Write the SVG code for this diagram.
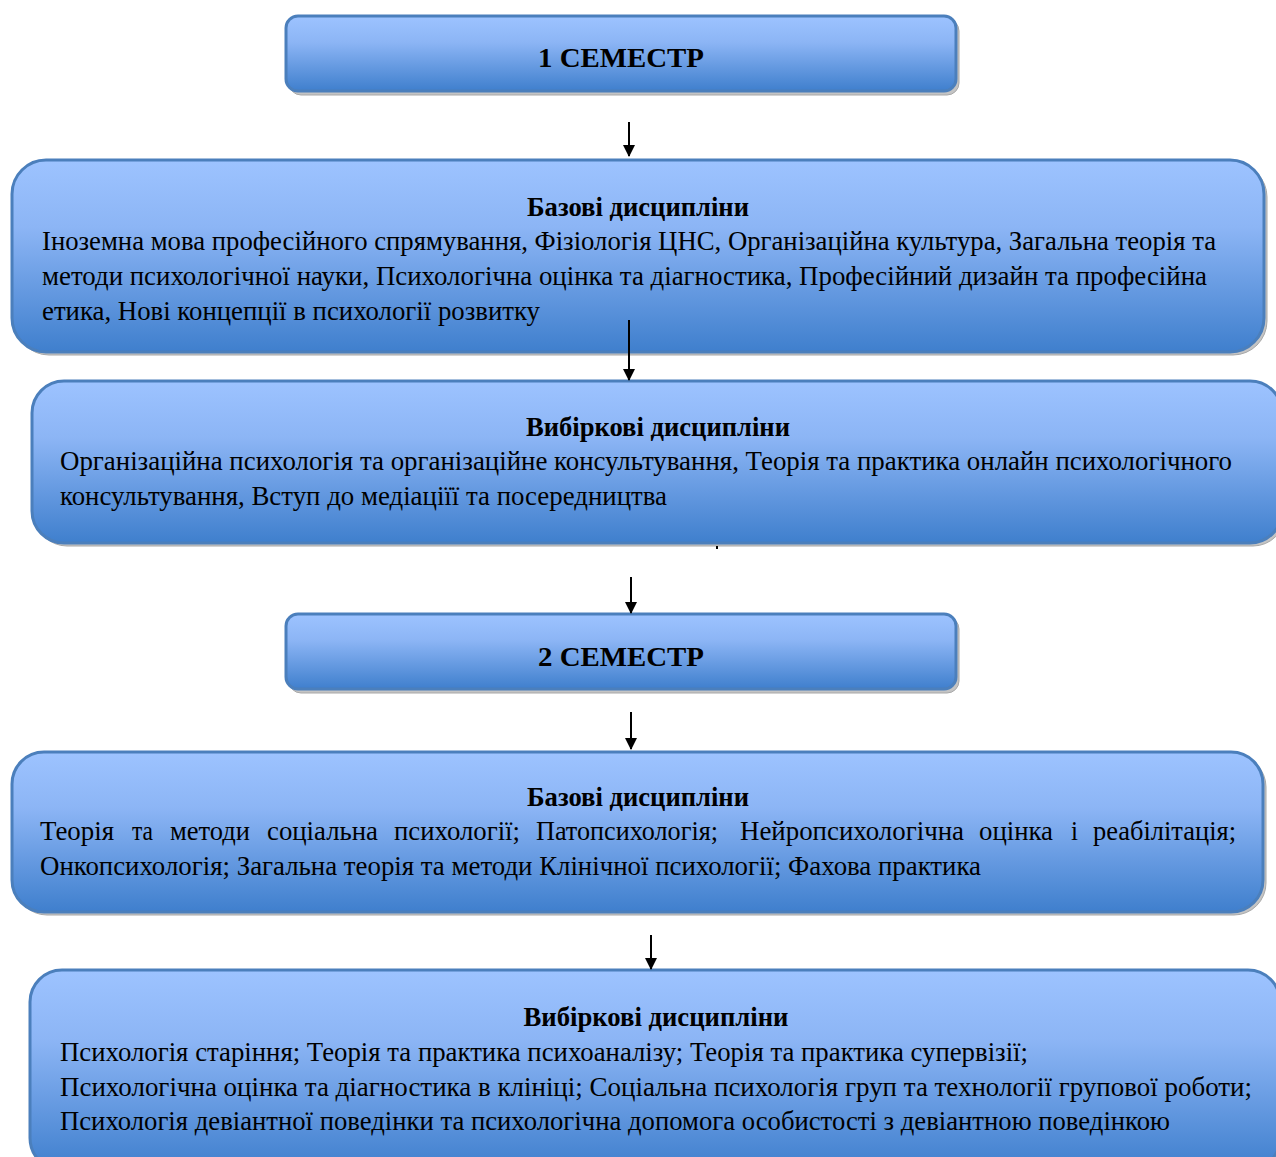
<svg xmlns="http://www.w3.org/2000/svg" width="1276" height="1157" viewBox="0 0 1276 1157">
<defs>
<linearGradient id="g" x1="0" y1="0" x2="0" y2="1">
<stop offset="0" stop-color="#9dc3ff"/>
<stop offset="0.35" stop-color="#8cb5f5"/>
<stop offset="1" stop-color="#3f7fcd"/>
</linearGradient>
<marker id="ah" viewBox="0 0 12 12" refX="11" refY="6" markerWidth="12" markerHeight="12" markerUnits="userSpaceOnUse" orient="auto">
<path d="M0,0 L12,6 L0,12 Z" fill="#000"/>
</marker>
<style>
.box{fill:url(#g);stroke:#4b7fbc;stroke-width:3}
.sh{fill:#c4c4c4;stroke:#a8a8a8;stroke-width:1}
.t{font-family:"Liberation Serif","Times New Roman",serif;font-size:27px;fill:#000}
.b{font-weight:bold;text-anchor:middle;font-size:28px}
.c{stroke:#000;stroke-width:2;fill:none}
</style>
</defs>
<rect width="1276" height="1157" fill="#fff"/>

<g id="semester1">
<rect class="sh" x="289" y="19" width="670" height="76" rx="12"/>
<rect class="box" x="286" y="16" width="670" height="75" rx="12"/>
<text class="t b" x="621" y="67" textLength="166" lengthAdjust="spacingAndGlyphs">1 СЕМЕСТР</text>
</g>

<g id="basic1">
<rect class="sh" x="15" y="163" width="1252" height="192" rx="34"/>
<rect class="box" x="12" y="160" width="1252" height="192" rx="34"/>
<text class="t b" x="638" y="216" textLength="222" lengthAdjust="spacingAndGlyphs">Базові дисципліни</text>
<text class="t" x="42" y="250" textLength="1174" lengthAdjust="spacingAndGlyphs">Іноземна мова професійного спрямування, Фізіологія ЦНС, Організаційна культура, Загальна теорія та</text>
<text class="t" x="42" y="285" textLength="1165" lengthAdjust="spacingAndGlyphs">методи психологічної науки, Психологічна оцінка та діагностика, Професійний дизайн  та професійна</text>
<text class="t" x="42" y="320" textLength="498" lengthAdjust="spacingAndGlyphs">етика, Нові концепції в психології розвитку</text>
</g>

<g id="elective1">
<rect class="sh" x="35" y="384" width="1250" height="162" rx="32"/>
<rect class="box" x="32" y="381" width="1250" height="162" rx="32"/>
<text class="t b" x="658" y="436" textLength="264" lengthAdjust="spacingAndGlyphs">Вибіркові дисципліни</text>
<text class="t" x="60" y="470" textLength="1172" lengthAdjust="spacingAndGlyphs">Організаційна психологія та організаційне консультування, Теорія та практика онлайн психологічного</text>
<text class="t" x="60" y="505" textLength="607" lengthAdjust="spacingAndGlyphs">консультування, Вступ до медіаціїї та посередництва</text>
</g>

<g id="semester2">
<rect class="sh" x="289" y="617" width="670" height="76" rx="12"/>
<rect class="box" x="286" y="614" width="670" height="75" rx="12"/>
<text class="t b" x="621" y="666" textLength="166" lengthAdjust="spacingAndGlyphs">2 СЕМЕСТР</text>
</g>

<g id="basic2">
<rect class="sh" x="15" y="755" width="1251" height="160" rx="32"/>
<rect class="box" x="12" y="752" width="1251" height="160" rx="32"/>
<text class="t b" x="638" y="806" textLength="222" lengthAdjust="spacingAndGlyphs">Базові дисципліни</text>
<g class="t">
<text x="40" y="840" textLength="74" lengthAdjust="spacingAndGlyphs">Теорія</text>
<text x="132" y="840" textLength="21" lengthAdjust="spacingAndGlyphs">та</text>
<text x="170" y="840" textLength="80" lengthAdjust="spacingAndGlyphs">методи</text>
<text x="267" y="840" textLength="111" lengthAdjust="spacingAndGlyphs">соціальна</text>
<text x="394" y="840" textLength="126" lengthAdjust="spacingAndGlyphs">психології;</text>
<text x="536" y="840" textLength="182" lengthAdjust="spacingAndGlyphs">Патопсихологія;</text>
<text x="740" y="840" textLength="224" lengthAdjust="spacingAndGlyphs">Нейропсихологічна</text>
<text x="979" y="840" textLength="74" lengthAdjust="spacingAndGlyphs">оцінка</text>
<text x="1071" y="840" textLength="7" lengthAdjust="spacingAndGlyphs">і</text>
<text x="1093" y="840" textLength="143" lengthAdjust="spacingAndGlyphs">реабілітація;</text>
</g>
<text class="t" x="40" y="875" textLength="941" lengthAdjust="spacingAndGlyphs">Онкопсихологія; Загальна теорія та методи Клінічної психології; Фахова практика</text>
</g>

<g id="elective2">
<rect class="sh" x="33" y="973" width="1250" height="200" rx="32"/>
<rect class="box" x="30" y="970" width="1250" height="200" rx="32"/>
<text class="t b" x="656" y="1026" textLength="265" lengthAdjust="spacingAndGlyphs">Вибіркові дисципліни</text>
<text class="t" x="60" y="1061" textLength="968" lengthAdjust="spacingAndGlyphs">Психологія старіння; Теорія та практика психоаналізу; Теорія та практика супервізії;</text>
<text class="t" x="60" y="1096" textLength="1192" lengthAdjust="spacingAndGlyphs">Психологічна оцінка та діагностика в клініці; Соціальна психологія груп та технології групової роботи;</text>
<text class="t" x="60" y="1130" textLength="1110" lengthAdjust="spacingAndGlyphs">Психологія девіантної поведінки та психологічна допомога особистості з девіантною поведінкою</text>
</g>

<g id="connectors">
<line class="c" x1="629" y1="122" x2="629" y2="156" marker-end="url(#ah)"/>
<line class="c" x1="629" y1="320" x2="629" y2="380" marker-end="url(#ah)"/>
<line class="c" x1="717" y1="546" x2="717" y2="549"/>
<line class="c" x1="631" y1="577" x2="631" y2="613" marker-end="url(#ah)"/>
<line class="c" x1="631" y1="712" x2="631" y2="749" marker-end="url(#ah)"/>
<line class="c" x1="651" y1="935" x2="651" y2="969" marker-end="url(#ah)"/>
</g>
</svg>
